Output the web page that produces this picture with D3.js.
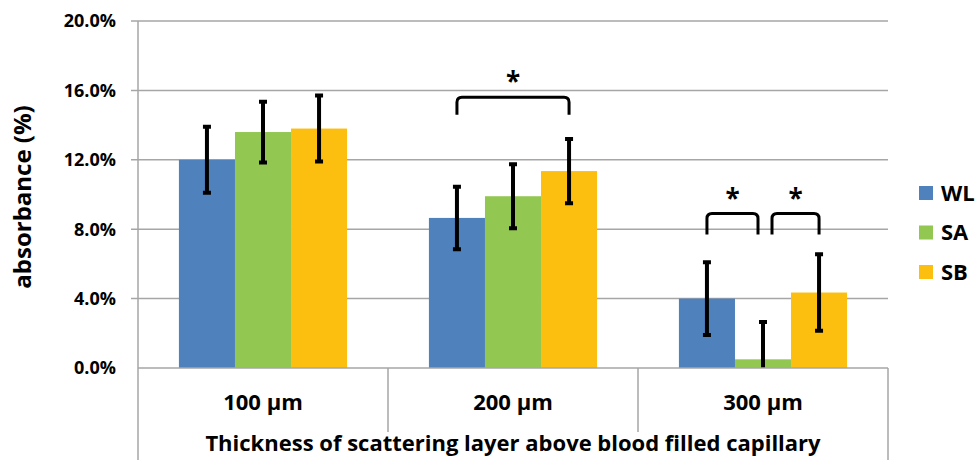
<!DOCTYPE html>
<meta charset="utf-8">
<style>
body { margin: 0; background: #fff; }
text { font-family: "Open Sans", "Noto Sans", sans-serif; font-weight: bold; fill: #000; }
.grid line { stroke: #a6a6a6; stroke-width: 1.5px; }
.frame { stroke: #a6a6a6; stroke-width: 1.5px; fill: none; }
.err { stroke: #000; stroke-width: 4px; fill: none; }
.bracket { stroke: #000; stroke-width: 3px; fill: none; stroke-linecap: butt; }
</style>
<body>
<svg id="chart" width="977" height="460"></svg>
<script src="https://d3js.org/d3.v7.min.js"></script>
<script>

// data
var categories = ["100 µm", "200 µm", "300 µm"];
var series = ["WL", "SA", "SB"];
var colors = ["#4f81bd", "#92c851", "#fcbf10"];
var wl    = [12.0, 8.65, 4.0];
var sa    = [13.6, 9.9, 0.5];
var sb    = [13.8, 11.35, 4.35];
var wlErr = [1.9, 1.8, 2.1];
var saErr = [1.75, 1.85, 2.15];
var sbErr = [1.9, 1.85, 2.2];
var yTicks = [0, 4, 8, 12, 16, 20];
// significance brackets: category, first series, last series, top level, leg level (%)
var brackets = [
  [1, 0, 2, 15.6, 14.6],
  [2, 0, 1, 8.9, 7.7],
  [2, 1, 2, 8.9, 7.7]
];

var values = [wl, sa, sb], errs = [wlErr, saErr, sbErr];

var svg = d3.select("#chart");
var left = 138, right = 888, plotTop = 21, zero = 368;

var y = d3.scaleLinear().domain([0, 20]).range([zero, plotTop]);
var x0 = d3.scaleBand().domain(d3.range(categories.length)).range([left, right]);
var x1 = d3.scaleBand().domain(d3.range(series.length)).range([0, x0.bandwidth()]).paddingOuter(0.73);

// gridlines with small ticks left of the axis
svg.append("g").attr("class", "grid")
  .selectAll("line").data(yTicks.slice(1)).join("line")
    .attr("x1", left - 7).attr("x2", right)
    .attr("y1", function(d) { return y(d); }).attr("y2", function(d) { return y(d); });

svg.append("g")
  .selectAll("text").data(yTicks).join("text")
    .attr("x", 116).attr("y", function(d) { return y(d); })
    .attr("dy", "0.36em").attr("text-anchor", "end")
    .style("font-size", "18px")
    .text(function(d) { return d3.format(".1f")(d) + "%"; });

// bars
var groups = svg.append("g").selectAll("g").data(categories).join("g")
  .attr("transform", function(d, i) { return "translate(" + x0(i) + ",0)"; });

groups.selectAll("rect")
  .data(function(d, i) { return series.map(function(s, j) { return {j: j, v: values[j][i], e: errs[j][i]}; }); })
  .join("rect")
    .attr("x", function(d) { return x1(d.j); })
    .attr("width", x1.bandwidth())
    .attr("y", function(d) { return y(d.v); })
    .attr("height", function(d) { return zero - y(d.v); })
    .attr("fill", function(d) { return colors[d.j]; });

// error bars (clipped at the axis)
groups.selectAll("path.err")
  .data(function(d, i) { return series.map(function(s, j) { return {j: j, v: values[j][i], e: errs[j][i]}; }); })
  .join("path")
    .attr("class", "err")
    .attr("d", function(d) {
      var cx = x1(d.j) + x1.bandwidth() / 2,
          hi = y(d.v + d.e), lo = y(Math.max(0, d.v - d.e)), w = 4;
      var p = "M" + cx + "," + hi + "V" + lo + "M" + (cx - w) + "," + hi + "H" + (cx + w);
      if (d.v - d.e > 0) p += "M" + (cx - w) + "," + lo + "H" + (cx + w);
      return p;
    });

// axis frame and category dividers
svg.append("line").attr("class", "frame").attr("x1", left).attr("x2", right).attr("y1", zero).attr("y2", zero);
svg.append("line").attr("class", "frame").attr("x1", left).attr("x2", left).attr("y1", plotTop).attr("y2", 460);
svg.append("line").attr("class", "frame").attr("x1", right).attr("x2", right).attr("y1", zero).attr("y2", 460);
svg.append("g").selectAll("line").data([1, 2]).join("line")
  .attr("class", "frame")
  .attr("x1", function(i) { return x0(i); }).attr("x2", function(i) { return x0(i); })
  .attr("y1", zero).attr("y2", 432);

svg.append("g").selectAll("text").data(categories).join("text")
  .attr("x", function(d, i) { return x0(i) + x0.bandwidth() / 2; })
  .attr("y", 402).attr("dy", "0.36em").attr("text-anchor", "middle")
  .style("font-size", "22px")
  .text(function(d) { return d; });

svg.append("text")
  .attr("x", (left + right) / 2).attr("y", 443).attr("dy", "0.36em")
  .attr("text-anchor", "middle").style("font-size", "22px")
  .text("Thickness of scattering layer above blood filled capillary");

svg.append("text")
  .attr("transform", "translate(22," + 197 + ") rotate(-90)")
  .attr("dy", "0.36em").attr("text-anchor", "middle").style("font-size", "24px")
  .text("absorbance (%)");

// significance brackets
brackets.forEach(function(b) {
  var adjacent = b[2] - b[1] === 1;
  var xa = x0(b[0]) + x1(b[1]) + x1.bandwidth() / 2 + (adjacent && b[1] > 0 ? 9 : 0),
      xb = x0(b[0]) + x1(b[2]) + x1.bandwidth() / 2 - (adjacent && b[1] === 0 ? 5 : 0),
      yt = y(b[3]), yl = y(b[4]), r = 5;
  svg.append("path").attr("class", "bracket")
    .attr("d", "M" + xa + "," + yl + "V" + (yt + r) + "Q" + xa + "," + yt + " " + (xa + r) + "," + yt +
               "H" + (xb - r) + "Q" + xb + "," + yt + " " + xb + "," + (yt + r) + "V" + yl);
  svg.append("text")
    .attr("x", (xa + xb) / 2).attr("y", yt - 6).attr("text-anchor", "middle")
    .style("font-size", "26px").text("*");
});

// legend
var legend = svg.append("g").selectAll("g").data(series).join("g")
  .attr("transform", function(d, i) { return "translate(919," + (193 + i * 39.5) + ")"; });
legend.append("rect").attr("x", 0).attr("y", -7).attr("width", 14).attr("height", 14)
  .attr("fill", function(d, i) { return colors[i]; });
legend.append("text").attr("x", 22).attr("dy", "0.36em").style("font-size", "22px")
  .text(function(d) { return d; });

</script>
</body>
